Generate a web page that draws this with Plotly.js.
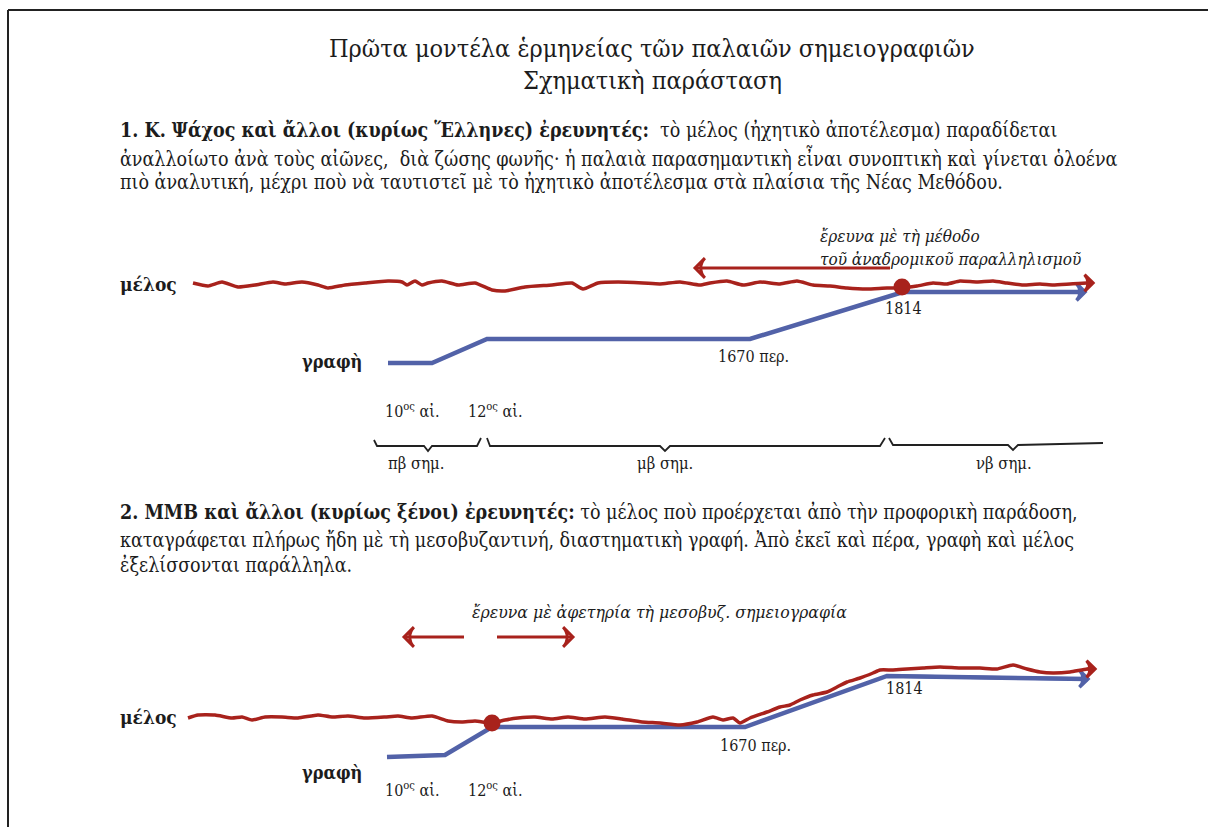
<!DOCTYPE html>
<html>
<head>
<meta charset="utf-8">
<script src="https://cdn.plot.ly/plotly-3.0.1.min.js"></script>
<style>html,body{margin:0;padding:0;background:#fff;}#chart{width:1208px;height:827px;}</style>
</head>
<body>
<div id="chart"></div>
<script>
// ---- data (page coordinates of the schematic) ----
const melos1X = [193,208,222,238,255,273,285,302,318,328,345,365,388,402,407,415,422,428,442,458,475,492,505,525,552,572,583,598,618,643,660,680,700,710,727,743,760,780,797,813,830,847,867,887,900,917,933,947,960,977,993,1007,1023,1040,1053,1070,1087,1093];
const melos1Y = [283,286,282,287,285,282,284,282,285,288,285,283,281,282,285,281,285,283,281,285,283,290,291,287,285,283,289,283,282,283,284,282,285,283,281,285,282,284,281,285,286,288,289,288,288,286,283,284,281,282,281,283,285,284,285,284,283,283];
const grafi1X = [388,432,487,750,903,1085];
const grafi1Y = [363,363,339,339,292,292];
const melos2X = [188,198,215,232,242,252,265,282,298,318,332,348,365,385,398,412,432,448,462,475,492,505,518,535,552,568,585,605,622,642,660,680,697,713,723,733,740,750,767,780,790,800,813,827,837,847,860,873,880,893,907,923,940,960,980,997,1013,1027,1040,1053,1070,1087,1095];
const melos2Y = [718,715,715,718,717,720,717,717,718,715,717,716,718,717,716,718,716,721,722,721,723,720,718,717,719,717,719,717,719,722,723,725,722,717,720,718,723,718,712,707,705,700,695,692,687,682,678,673,670,670,669,668,667,668,668,669,665,669,672,673,672,669,669];
const grafi2X = [387,445,492,745,887,1088];
const grafi2Y = [757,755,727,727,676,679];
const meetX = [902,492];
const meetY = [287,723];
const braceX = [374,377,424,428,432,477,481,null,487,490,660,665,670,880,885,null,889,893,1008,1013,1018,1103];
const braceY = [440,446,446,451,446,446,438,null,438,446,446,451,446,446,438,null,438,445,445,450,445,443];
// research arrows: tail x, head x, y
const researchTailX = [890,464,497];
const researchHeadX = [695,404,573];
const researchY = [268,637,637];

const titleLines = ["Πρῶτα μοντέλα ἑρμηνείας τῶν παλαιῶν σημειογραφιῶν","Σχηματικὴ παράσταση"];
const para1 = ["<b>1. Κ. Ψάχος καὶ ἄλλοι (κυρίως Ἕλληνες) ἐρευνητές:</b>  τὸ μέλος (ἠχητικὸ ἀποτέλεσμα) παραδίδεται",
  "ἀναλλοίωτο ἀνὰ τοὺς αἰῶνες,  διὰ ζώσης φωνῆς· ἡ παλαιὰ παρασημαντικὴ εἶναι συνοπτικὴ καὶ γίνεται ὁλοένα",
  "πιὸ ἀναλυτική, μέχρι ποὺ νὰ ταυτιστεῖ μὲ τὸ ἠχητικὸ ἀποτέλεσμα στὰ πλαίσια τῆς Νέας Μεθόδου."];
const para2 = ["<b>2. ΜΜΒ καὶ ἄλλοι (κυρίως ξένοι) ἐρευνητές:</b> τὸ μέλος ποὺ προέρχεται ἀπὸ τὴν προφορικὴ παράδοση,",
  "καταγράφεται πλήρως ἤδη μὲ τὴ μεσοβυζαντινή, διαστηματικὴ γραφή. Ἀπὸ ἐκεῖ καὶ πέρα, γραφὴ καὶ μέλος",
  "ἐξελίσσονται παράλληλα."];
const periodLabels = ["πβ σημ.","μβ σημ.","νβ σημ."];
const periodCenters = [416,665,1004];
const centuryLabels = ["10<sup>ος</sup> αἰ.","12<sup>ος</sup> αἰ."];

const RED = '#a8221c', BLUE = '#5262a8', INK = '#1c1c1c';
const FONT = 'DejaVu Serif Condensed, DejaVu Serif, serif';

function arrowTrace(x0, y0, x1, y1, color, w, size) {
  return {x:[x0,x1], y:[y0,y1], mode:'lines+markers', hoverinfo:'skip',
    line:{color:color, width:w},
    marker:{symbol:'arrow-wide-open', angleref:'previous', size:[0,size], color:color, opacity:1,
      line:{color:color, width:w}}};
}
function endArrowTrace(X, Y, color, w) {
  const n = X.length;
  return arrowTrace(X[n-2], Y[n-2], X[n-1], Y[n-1], color, w, 12);
}

const traces = [
  {x: grafi1X, y: grafi1Y, mode:'lines', line:{color:BLUE, width:4.5}, hoverinfo:'skip'},
  endArrowTrace(grafi1X, grafi1Y, BLUE, 3.5),
  {x: melos1X, y: melos1Y, mode:'lines', line:{color:RED, width:3.5, shape:'spline', smoothing:0.5}, hoverinfo:'skip'},
  endArrowTrace(melos1X, melos1Y, RED, 3.2),
  {x: grafi2X, y: grafi2Y, mode:'lines', line:{color:BLUE, width:4.5}, hoverinfo:'skip'},
  endArrowTrace(grafi2X, grafi2Y, BLUE, 3.5),
  {x: melos2X, y: melos2Y, mode:'lines', line:{color:RED, width:3.5, shape:'spline', smoothing:0.5}, hoverinfo:'skip'},
  endArrowTrace(melos2X, melos2Y, RED, 3.2),
  {x: meetX, y: meetY, mode:'markers', marker:{color:RED, size:17}, hoverinfo:'skip'},
  {x: braceX, y: braceY, mode:'lines', line:{color:'#222', width:1.8}, connectgaps:false, hoverinfo:'skip'}
];
researchTailX.forEach((t,i)=>traces.push(arrowTrace(t, researchY[i], researchHeadX[i], researchY[i], RED, 3, 14)));

const ann = [];
function fnt(size) { return {family:FONT, size:size, color:INK}; }
function txt(x, y, text, size, opts) {
  ann.push(Object.assign({x:x, y:y, xref:'x', yref:'y', text:text, showarrow:false,
    xanchor:'left', yanchor:'middle', font:fnt(size)}, opts||{}));
}

// title
txt(652, 48, titleLines[0], 25, {xanchor:'center'});
txt(652, 80, titleLines[1], 25, {xanchor:'center'});
// paragraphs
[130,157,182].forEach((y,i)=>txt(118, y, para1[i], 19.5));
[512,540,565].forEach((y,i)=>txt(118, y, para2[i], 19.5));

// diagram 1 labels
txt(818, 236, '<i>ἔρευνα μὲ τὴ μέθοδο</i>', 17);
txt(818, 259, '<i>τοῦ ἀναδρομικοῦ παραλληλισμοῦ</i>', 17);
txt(118, 284, '<b>μέλος</b>', 19);
txt(300, 361, '<b>γραφὴ</b>', 18);
txt(716, 356, '1670 περ.', 16);
txt(903, 308, '1814', 16, {xanchor:'center'});
txt(383, 410, centuryLabels[0], 16);
txt(466, 410, centuryLabels[1], 16);
periodLabels.forEach((t,i)=>txt(periodCenters[i], 463, t, 16.5, {xanchor:'center'}));

// diagram 2 labels
txt(470, 612, '<i>ἔρευνα μὲ ἀφετηρία τὴ μεσοβυζ. σημειογραφία</i>', 17.5);
txt(118, 717, '<b>μέλος</b>', 19);
txt(300, 772, '<b>γραφὴ</b>', 18);
txt(718, 745, '1670 περ.', 16);
txt(904, 688, '1814', 16, {xanchor:'center'});
txt(383, 789, centuryLabels[0], 16);
txt(466, 789, centuryLabels[1], 16);

const layout = {
  width:1208, height:827, margin:{l:0,r:0,t:0,b:0},
  paper_bgcolor:'#fff', plot_bgcolor:'#fff', showlegend:false,
  xaxis:{range:[0,1208], visible:false, fixedrange:true},
  yaxis:{range:[827,0], visible:false, fixedrange:true},
  annotations: ann,
  shapes:[
    {type:'line', xref:'x', yref:'y', x0:8, x1:1208, y0:10, y1:10, line:{color:'#222', width:2}},
    {type:'line', xref:'x', yref:'y', x0:8, x1:8, y0:10, y1:827, line:{color:'#222', width:2}}
  ]
};
Plotly.newPlot('chart', traces, layout, {staticPlot:true, displayModeBar:false});
</script>
</body>
</html>
